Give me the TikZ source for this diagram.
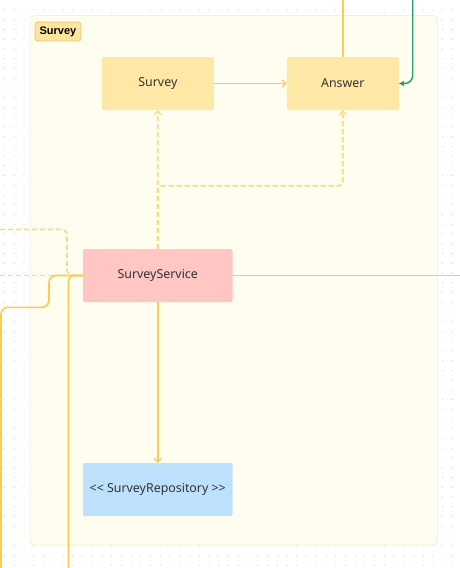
\documentclass[tikz,border=0pt]{standalone}
\usepackage{fontspec}
\setmainfont{Noto Sans}
\newfontfamily\tagfont{Liberation Sans}
\usetikzlibrary{arrows.meta}
\definecolor{dotc}{HTML}{CFCFCF}
\definecolor{framefill}{HTML}{FFFCF0}
\definecolor{framedraw}{HTML}{FBF0CC}
\definecolor{tagfill}{HTML}{FDE5A0}
\definecolor{tagdraw}{HTML}{E9C472}
\definecolor{entfill}{HTML}{FFE7A6}
\definecolor{svcfill}{HTML}{FFC6C3}
\definecolor{repofill}{HTML}{BDE1FD}
\definecolor{linec}{HTML}{FCCB50}
\definecolor{dashc}{HTML}{FDD877}
\definecolor{greenc}{HTML}{22A365}
\definecolor{txt}{HTML}{333333}
\tikzset{
  box/.style={draw=none, rounded corners=2pt, minimum width=112pt, minimum height=53pt,
    inner sep=0pt, text=txt, font=\fontsize{12.4}{14}\selectfont},
  wbox/.style={box, minimum width=149.5pt},
  conn/.style={draw=linec, line width=1.6pt},
  dconn/.style={draw=dashc, line width=1.6pt, dash pattern=on 5pt off 3pt},
  tip/.style={-{Straight Barb[length=3.5pt,width=7pt,line width=1.2pt]}},
  gtip/.style={-{Triangle[length=5pt,width=5pt]}},
}
\begin{document}
\begin{tikzpicture}[x=1pt,y=-1pt]
\useasboundingbox (0,0) rectangle (460,568);
\fill[white] (0,0) rectangle (460,568);
% dot grid
\foreach \i in {0,...,47} {
  \foreach \j in {0,...,57} {
    \fill[dotc] (4.5+9.74*\i, 10+9.74*\j) circle[radius=0.6pt];
  }
}
% group frame
\draw[draw=framedraw, fill=framefill, line width=0.8pt, rounded corners=4pt]
  (30,15.5) rectangle (437.5,545);
\node[draw=tagdraw, fill=tagfill, rounded corners=3pt, line width=0.8pt,
  minimum width=46pt, minimum height=19pt, inner sep=0pt,
  font=\tagfont\bfseries\fontsize{11}{13}\selectfont, text=black] (tag) at (58,31.5) {Survey};
% nodes
\node[box, fill=entfill] (survey) at (157.85,83.5) {Survey};
\node[box, fill=entfill] (answer) at (342.85,83.5) {Answer};
\node[wbox, fill=svcfill] (svc) at (157.75,275.5) {SurveyService};
\node[wbox, fill=repofill] (repo) at (157.75,489.5) {{<}{<} SurveyRepository {>}{>}};
% coordinates
\coordinate (t1) at (342.85,0);
\coordinate (g0) at (412.7,0);
\coordinate (b1) at (157.75,185.7);
\coordinate (b2) at (342.85,185.7);
\coordinate (r1) at (460,275.5);
\coordinate (l1) at (0,275.5);
\coordinate (l2a) at (0,229.3);
\coordinate (l2b) at (67,229.3);
\coordinate (l2c) at (67,275.5);
\coordinate (l3a) at (1,568);
\coordinate (l3b) at (1,307.3);
\coordinate (l3c) at (49,307.3);
\coordinate (l3d) at (49,275.5);
\coordinate (l4a) at (68.5,568);
\coordinate (l4b) at (68.5,275.5);
% connectors
\draw[conn, tip] (survey.east) -- (answer.west);
\draw[conn] (t1) -- (answer.north);
\draw[draw=greenc, line width=1.4pt, gtip, rounded corners=8pt] (g0) |- (answer.east);
\draw[dconn, tip] (svc.north) -- (survey.south);
\draw[dconn, tip, rounded corners=4pt] (svc.north) -- (b1) -- (b2) -- (answer.south);
\draw[conn] (svc.east) -- (r1);
\draw[conn, tip] (svc.south) -- (repo.north);
\draw[dconn] (l1) -- (svc.west);
\draw[dconn, rounded corners=6pt] (l2a) -- (l2b) -- (l2c) -- (svc.west);
\draw[conn, rounded corners=7pt] (l3a) -- (l3b) -- (l3c) -- (l3d) -- (svc.west);
\draw[conn, rounded corners=6pt] (l4a) -- (l4b) -- (svc.west);
\end{tikzpicture}
\end{document}
